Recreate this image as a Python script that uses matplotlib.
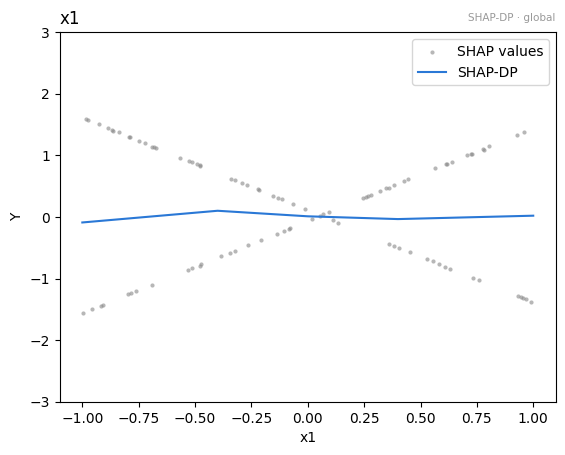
import numpy as np
import matplotlib
matplotlib.use("Agg")
import matplotlib.pyplot as plt

# SHAP values for x1
shap_x = [
    -0.985, -0.975, -0.926, -0.886, -0.867, -0.863, -0.838, -0.793, -0.787, -0.749,
    -0.722, -0.690, -0.683, -0.674, -0.567, -0.528, -0.514, -0.492, -0.480, -0.476,
    -0.342, -0.324, -0.293, -0.271, -0.222, -0.218, -0.156, -0.134, -0.116, -0.067,
    -0.014,
    0.017, 0.054, 0.066, 0.094, 0.110, 0.136,
    0.247, 0.258, 0.269, 0.282, 0.322, 0.349, 0.361, 0.384, 0.429, 0.446,
    0.566, 0.612, 0.616, 0.640, 0.707, 0.722, 0.727, 0.778, 0.782, 0.805,
    0.929, 0.960,
    -0.997, -0.957, -0.919, -0.908, -0.798, -0.784, -0.761, -0.691, -0.532, -0.513,
    -0.480, -0.474, -0.386, -0.346, -0.324, -0.266, -0.209, -0.138, -0.107, -0.081,
    -0.084,
    0.361, 0.384, 0.406, 0.455, 0.530, 0.557, 0.583, 0.610, 0.632, 0.733,
    0.761, 0.932, 0.944, 0.954, 0.966, 0.991,
]
shap_y = [
    1.584, 1.568, 1.508, 1.438, 1.406, 1.400, 1.373, 1.292, 1.292, 1.228,
    1.195, 1.140, 1.130, 1.114, 0.952, 0.903, 0.887, 0.855, 0.835, 0.822,
    0.611, 0.595, 0.546, 0.514, 0.454, 0.445, 0.336, 0.308, 0.287, 0.206,
    0.125,
    -0.038, 0.011, 0.043, 0.076, -0.054, -0.103,
    0.303, 0.319, 0.336, 0.352, 0.416, 0.465, 0.475, 0.514, 0.579, 0.611,
    0.790, 0.855, 0.859, 0.897, 1.000, 1.017, 1.017, 1.098, 1.090, 1.146,
    1.325, 1.373,
    -1.562, -1.497, -1.448, -1.432, -1.253, -1.237, -1.205, -1.108, -0.864, -0.832,
    -0.789, -0.767, -0.637, -0.589, -0.557, -0.459, -0.378, -0.281, -0.232, -0.183,
    -0.190,
    -0.438, -0.475, -0.508, -0.568, -0.686, -0.718, -0.762, -0.816, -0.848, -0.994,
    -1.027, -1.286, -1.302, -1.313, -1.335, -1.383,
]

# SHAP-DP curve
dp_x = [-1.0, -0.4, 0.0, 0.4, 1.0]
dp_y = [-0.09, 0.10, 0.01, -0.035, 0.02]

fig, ax = plt.subplots(figsize=(6.4, 4.8))

ax.scatter(shap_x, shap_y, s=9, color='#888888', alpha=0.6, linewidths=0,
           label='SHAP values')
ax.plot(dp_x, dp_y, color='#2a78d6', lw=1.5, label='SHAP-DP')

ax.set_ylim(-3, 3)
ax.set_xlabel('x1')
ax.set_ylabel('Y')
ax.set_title('x1', loc='left', fontsize=12)
ax.text(1, 1.03, 'SHAP-DP \u00b7 global', transform=ax.transAxes,
        ha='right', va='baseline', fontsize=7.5, color='#999999')
ax.legend(loc='upper right')

fig.savefig('out.png', dpi=100, bbox_inches='tight')
